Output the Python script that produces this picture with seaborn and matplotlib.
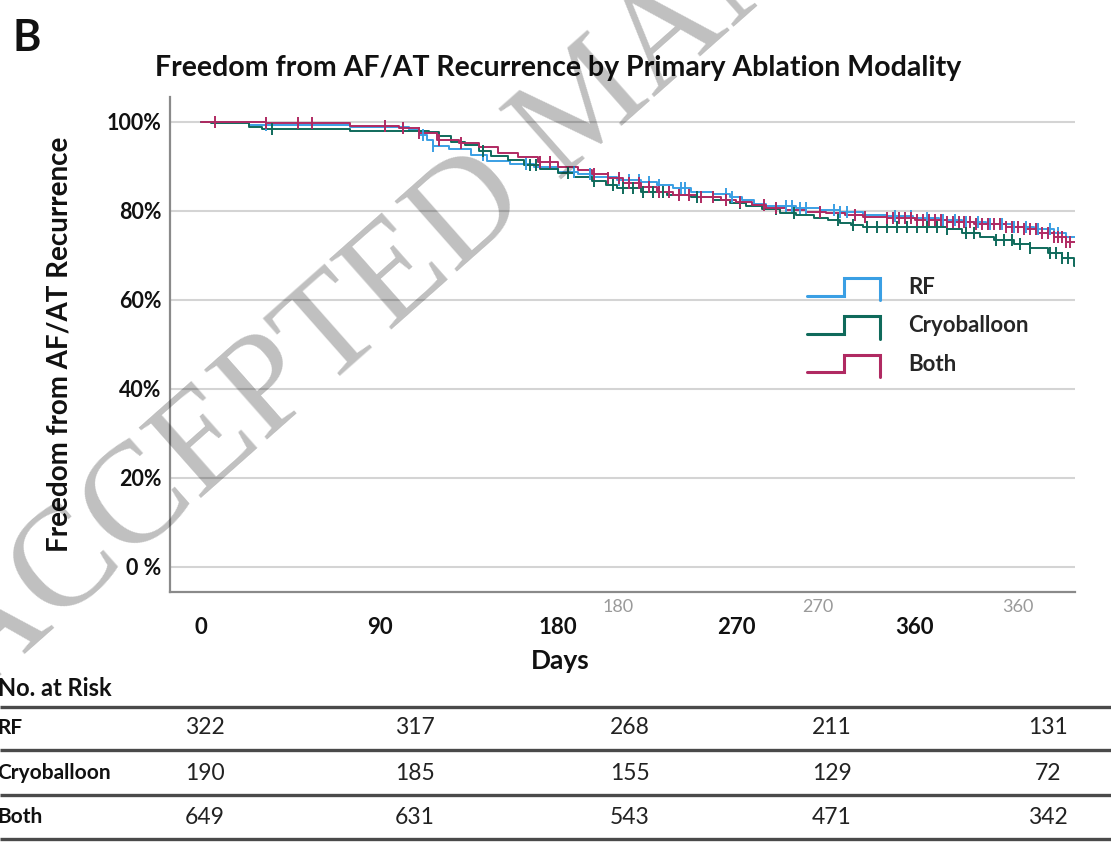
import numpy as np
import pandas as pd
import matplotlib
matplotlib.use("Agg")
import matplotlib.pyplot as plt
import seaborn as sns
from matplotlib.legend_handler import HandlerBase
from matplotlib.lines import Line2D

# ---------------- data ----------------
groups = ["RF", "Cryoballoon", "Both"]
colors = {"RF": "#3A9FE4", "Cryoballoon": "#0F6A5B", "Both": "#B02A62"}

rf_t = [0, 24, 75, 105, 110, 114, 117, 125, 136, 144, 156, 168, 180, 190, 197, 210, 222, 230,
        238, 247, 258, 267, 273, 279, 285, 300, 312, 322, 334, 346, 359, 372, 384, 396, 410, 420, 430, 436]
rf_s = [100, 99.3, 98.7, 98.1, 97.0, 96.0, 94.6, 93.8, 92.6, 91.2, 90.4, 89.8, 88.8, 88.2, 87.5, 86.9,
        86.4, 85.8, 85.0, 84.3, 83.7, 83.1, 82.3, 81.5, 81.0, 80.6, 80.1, 79.6, 79.0, 78.7, 78.3, 77.9,
        77.5, 77.0, 76.4, 75.8, 75.0, 74.0]
rf_cens = [33, 112, 117, 142, 164, 188, 196, 211, 216, 221, 226, 231, 242, 244, 265, 268, 295, 298,
           302, 305, 319, 322, 326, 350, 358, 366, 374, 380, 386, 392, 398, 404, 410, 416, 422, 428, 432]

cryo_t = [0, 5, 24, 31, 75, 115, 120, 126, 133, 140, 146, 155, 163, 171, 180, 188, 197, 204, 210,
          222, 235, 247, 258, 267, 275, 283, 292, 300, 309, 316, 322, 328, 334, 376, 384, 393, 400,
          410, 418, 427, 434, 440]
cryo_s = [100, 99.6, 98.9, 98.3, 98.0, 97.6, 96.8, 95.5, 94.8, 93.5, 92.3, 91.3, 90.3, 89.3, 88.4,
          87.6, 86.6, 85.8, 85.0, 84.3, 83.5, 83.0, 82.4, 81.8, 81.0, 80.3, 79.5, 79.0, 78.3, 77.8,
          77.3, 76.8, 76.4, 75.8, 75.0, 74.2, 73.4, 72.6, 71.6, 70.5, 69.4, 67.6]
cryo_cens = [36, 142, 166, 169, 185, 198, 208, 213, 218, 223, 228, 233, 250, 272, 290, 299, 321, 329,
             336, 341, 346, 351, 356, 361, 366, 371, 376, 386, 390, 401, 405, 409, 413, 418, 428,
             431, 434, 437]

both_t = [0, 33, 75, 100, 110, 119, 130, 140, 150, 160, 170, 180, 190, 197, 205, 213, 222, 230, 238,
          250, 262, 270, 278, 285, 295, 305, 315, 325, 334, 346, 360, 376, 390, 406, 415, 422, 430, 436]
both_s = [100, 99.6, 99.1, 98.5, 97.5, 96.0, 95.2, 94.3, 93.0, 92.0, 91.0, 89.9, 89.2, 88.3, 87.3,
          86.3, 85.3, 84.3, 83.5, 83.0, 82.5, 82.0, 81.3, 80.7, 80.2, 79.8, 79.4, 79.0, 78.6, 78.3,
          78.0, 77.5, 77.0, 76.4, 75.8, 75.0, 74.2, 73.0]
both_cens = [7, 33, 49, 56, 93, 102, 110, 120, 131, 171, 176, 198, 205, 211, 216, 221, 226, 231, 236,
             241, 246, 252, 258, 265, 272, 284, 290, 312, 330, 335, 346, 349, 352, 355, 358, 361, 364,
             367, 370, 373, 376, 379, 382, 385, 388, 391, 394, 397, 400, 403, 406, 409, 412, 415, 418,
             421, 424, 427, 430, 432, 434, 436, 438]

end_day = 441

x_ticks = [0, 90, 180, 270, 360]
y_ticks = [0, 20, 40, 60, 80, 100]
y_ticklabels = ["0 %", "20%", "40%", "60%", "80%", "100%"]
ghost_labels = ["180", "270", "360"]

risk_rows = ["RF", "Cryoballoon", "Both"]
risk_rf = [322, 317, 268, 211, 131]
risk_cryo = [190, 185, 155, 129, 72]
risk_both = [649, 631, 543, 471, 342]

title = "Freedom from AF/AT Recurrence by Primary Ablation Modality"

# ---------------- build frames ----------------
series = {"RF": (rf_t, rf_s, rf_cens), "Cryoballoon": (cryo_t, cryo_s, cryo_cens),
          "Both": (both_t, both_s, both_cens)}
curve_rows, cens_rows = [], []
for g, (t, s, c) in series.items():
    for ti, si in zip(t, s):
        curve_rows.append((g, ti, si))
    curve_rows.append((g, end_day, s[-1]))
    ta = np.asarray(t)
    for ci in c:
        idx = np.searchsorted(ta, ci, side="right") - 1
        cens_rows.append((g, ci, s[idx]))
curves = pd.DataFrame(curve_rows, columns=["group", "day", "surv"])
cens = pd.DataFrame(cens_rows, columns=["group", "day", "surv"])

# ---------------- figure ----------------
sns.set_theme(style="white")
plt.rcParams["font.family"] = ["Lato", "DejaVu Sans"]

W, H = 1111, 844
fig = plt.figure(figsize=(W / 100, H / 100), dpi=100)
fig.patch.set_facecolor("white")

L, R, T, B = 170, 1075, 97, 592
ax = fig.add_axes([L / W, 1 - B / H, (R - L) / W, (B - T) / H])

sns.lineplot(data=curves, x="day", y="surv", hue="group", palette=colors, hue_order=groups,
             drawstyle="steps-post", estimator=None, sort=True, linewidth=1.4, legend=False, ax=ax)
for g in groups:
    sub = cens[cens.group == g]
    ax.plot(sub.day, sub.surv, linestyle="none", marker="|", markersize=9, markeredgewidth=1.4,
            color=colors[g])

x0 = -(201 - L) / 1.983
ax.set_xlim(x0, x0 + (R - L) / 1.983)
ax.set_ylim(100 - (B - 121.7) / 4.45, 100 + (121.7 - T) / 4.45)

ax.set_yticks(y_ticks, labels=y_ticklabels)
ax.set_xticks(x_ticks, labels=[str(v) for v in x_ticks])
ax.tick_params(axis="both", length=0)
ax.tick_params(axis="y", pad=6, labelsize=15.5)
ax.tick_params(axis="x", pad=18, labelsize=16)
for lab in ax.get_xticklabels() + ax.get_yticklabels():
    lab.set_fontweight("bold")
    lab.set_color("#111111")
ax.yaxis.grid(True, color="#d4d4d4", linewidth=1.5)
ax.xaxis.grid(False)
for sp in ["top", "right"]:
    ax.spines[sp].set_visible(False)
for sp in ["left", "bottom"]:
    ax.spines[sp].set_color("#8a8a8a")
    ax.spines[sp].set_linewidth(1.6)

ax.set_xlabel("")
ax.set_ylabel("Freedom from AF/AT Recurrence", fontsize=20, fontweight="bold", labelpad=25,
              color="#111111")


class StepHandler(HandlerBase):
    def create_artists(self, legend, orig_handle, xdescent, ydescent, width, height, fontsize, trans):
        xa = -xdescent
        ya = -ydescent
        xs = [xa, xa + 0.5 * width, xa + 0.5 * width, xa + width, xa + width]
        ys = [ya + 0.0 * height, ya + 0.0 * height, ya + 0.95 * height, ya + 0.95 * height,
              ya - 0.25 * height]
        ln = Line2D(xs, ys, color=orig_handle.get_color(), lw=2.2, solid_joinstyle="miter")
        ln.set_transform(trans)
        return [ln]


handles = [Line2D([], [], color=colors[g]) for g in groups]
leg = ax.legend(handles, groups, handler_map={Line2D: StepHandler()}, frameon=False,
                loc="upper left", bbox_to_anchor=(807 / W, 1 - 277 / H), bbox_transform=fig.transFigure,
                borderpad=0, borderaxespad=0, handlelength=3.3, handleheight=0.9, handletextpad=1.25,
                labelspacing=0.78, prop={"family": "Lato", "weight": "bold", "size": 16})

# ---------------- overlay (pixel coordinates) ----------------
ov = fig.add_axes([0, 0, 1, 1])
ov.set_xlim(0, W)
ov.set_ylim(H, 0)
ov.axis("off")
ov.set_zorder(5)

ov.text(12, 38, "B", fontsize=31, fontweight="bold", ha="left", va="center", color="#111111")
ov.text(558, 68, title, fontsize=20.5, fontweight="bold", ha="center", va="center", color="#111111")
ov.text(560, 661, "Days", fontsize=19, fontweight="bold", ha="center", va="center", color="#111111")

for lab, xp in zip(ghost_labels, [618, 818, 1018]):
    ov.text(xp, 607, lab, fontsize=13, color="#9a9a9a", ha="center", va="center")

# number-at-risk table
ov.text(-2, 688, "No. at Risk", fontsize=17, fontweight="bold", ha="left", va="center", color="#111111")
col_x = [205, 415, 630, 832, 1048]
row_y = [728, 773, 817]
line_y = [707, 750, 795, 839]
for yy in line_y:
    ov.plot([0, W], [yy, yy], color="#4a4a4a", linewidth=2.4, solid_capstyle="butt")
for name, vals, yy in zip(risk_rows, [risk_rf, risk_cryo, risk_both], row_y):
    ov.text(-3, yy, name, fontsize=15, fontweight="bold", ha="left", va="center", color="#111111")
    for v, xx in zip(vals, col_x):
        ov.text(xx, yy, str(v), fontsize=16.5, ha="center", va="center", color="#222222")

# watermark
ov.text(-22, 695, "ACCEPTED MANUSCRIPT", fontsize=103, family="Liberation Serif", color="black",
        alpha=0.25, rotation=41.5, rotation_mode="anchor", ha="left", va="baseline")

fig.savefig("out.png", dpi=100)
